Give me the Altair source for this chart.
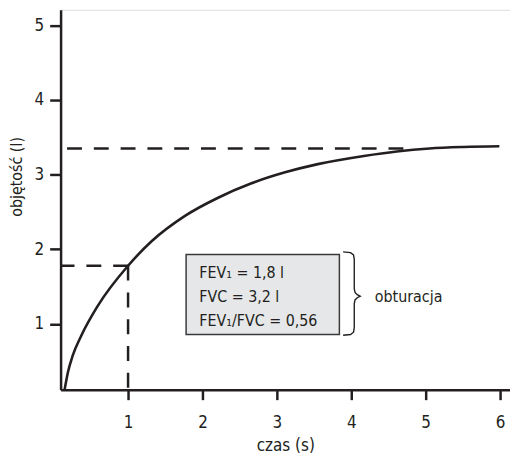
import altair as alt
import pandas as pd

FONT = "Liberation Sans Narrow, DejaVu Sans Condensed, sans-serif"
INK = "#231f20"

# spirometry curve: time (s) vs volume (l)
curve_t = [0.147, 0.191, 0.257, 0.369, 0.591, 1.0, 1.32, 1.77, 2.21, 2.65, 3.11, 3.55, 4.17, 4.61, 5.05, 5.51, 5.99]
curve_v = [0.12, 0.35, 0.58, 0.84, 1.24, 1.78, 2.11, 2.45, 2.69, 2.88, 3.03, 3.14, 3.25, 3.31, 3.35, 3.37, 3.38]

x_ticks = [1, 2, 3, 4, 5, 6]
y_ticks = [1, 2, 3, 4, 5]
x_domain = [0.093, 6.133]
y_domain = [0.12, 5.206]

fev1_t = 1.0
fev1_v = 1.78
fvc_v = 3.35
fvc_line_end = 4.7

box_x = [1.78, 3.84]
box_y = [0.86, 1.93]
box_lines = ["FEV\u2081 = 1,8 l", "FVC = 3,2 l", "FEV\u2081/FVC = 0,56"]
box_line_y = [1.62, 1.29, 0.97]
box_text_x = 1.956

brace_left, brace_x, brace_tip = 3.89, 4.04, 4.12
brace_top, brace_bottom, brace_mid = 1.965, 0.85, 1.372
note_label = "obturacja"
note_x, note_y = 4.316, 1.30

xs = alt.Scale(domain=x_domain, nice=False, zero=False)
ys = alt.Scale(domain=y_domain, nice=False, zero=False)

curve_df = pd.DataFrame({"t": curve_t, "v": curve_v})

xax = alt.Axis(values=x_ticks, format="d", title="czas (s)", grid=False, tickSize=10, tickWidth=2.5,
               domainWidth=2.5, domainColor=INK, tickColor=INK, labelColor=INK, titleColor=INK,
               labelFont=FONT, titleFont=FONT, labelFontSize=17, titleFontSize=17,
               titleFontWeight="normal", labelPadding=15, titlePadding=7)
yax = alt.Axis(values=y_ticks, format="d", title="objętość (l)", grid=False, tickSize=11, tickWidth=2.5,
               domainWidth=2.5, domainColor=INK, tickColor=INK, labelColor=INK, titleColor=INK,
               labelFont=FONT, titleFont=FONT, labelFontSize=17, titleFontSize=16,
               titleFontWeight="normal", labelPadding=6, titleX=-36, titleY=168)

curve = alt.Chart(curve_df).mark_line(color=INK, strokeWidth=2.6, interpolate="monotone").encode(
    x=alt.X("t:Q", scale=xs, axis=xax),
    y=alt.Y("v:Q", scale=ys, axis=yax),
)

dash = [15, 12]
hlines_df = pd.DataFrame({"x1": [fvc_line_end, fev1_t], "x2": [x_domain[0], x_domain[0]], "y": [fvc_v, fev1_v]})
hlines = alt.Chart(hlines_df).mark_rule(color=INK, strokeWidth=2.5, strokeDash=dash).encode(
    x=alt.X("x1:Q", scale=xs), x2="x2:Q", y=alt.Y("y:Q", scale=ys))

vline_df = pd.DataFrame({"x": [fev1_t], "y1": [fev1_v], "y2": [y_domain[0]]})
vline = alt.Chart(vline_df).mark_rule(color=INK, strokeWidth=2.5, strokeDash=dash).encode(
    x=alt.X("x:Q", scale=xs), y=alt.Y("y1:Q", scale=ys), y2="y2:Q")

box_df = pd.DataFrame({"x1": [box_x[0]], "x2": [box_x[1]], "y1": [box_y[0]], "y2": [box_y[1]]})
box = alt.Chart(box_df).mark_rect(fill="#e6e7e8", stroke="#3a3a3a", strokeWidth=1.5).encode(
    x=alt.X("x1:Q", scale=xs), x2="x2:Q", y=alt.Y("y1:Q", scale=ys), y2="y2:Q")

text_df = pd.DataFrame({"x": [box_text_x] * 3, "y": box_line_y, "label": box_lines})
texts = alt.Chart(text_df).mark_text(align="left", baseline="alphabetic", font=FONT, fontSize=16, color=INK).encode(
    x=alt.X("x:Q", scale=xs), y=alt.Y("y:Q", scale=ys), text="label:N")

# curly brace built from the box extent
bx = [brace_left, 3.99, 4.03, brace_x, brace_x, 4.05, 4.08, brace_tip, 4.08, 4.05, brace_x, brace_x, 4.03, 3.99, brace_left]
by = [brace_top, brace_top - 0.01, brace_top - 0.04, brace_top - 0.1,
      brace_mid + 0.1, brace_mid + 0.05, brace_mid + 0.02, brace_mid,
      brace_mid - 0.02, brace_mid - 0.05, brace_mid - 0.1,
      brace_bottom + 0.1, brace_bottom + 0.04, brace_bottom + 0.01, brace_bottom]
brace_df = pd.DataFrame({"x": bx, "y": by, "o": list(range(len(bx)))})
brace = alt.Chart(brace_df).mark_line(color=INK, strokeWidth=1.4, interpolate="linear").encode(
    x=alt.X("x:Q", scale=xs), y=alt.Y("y:Q", scale=ys), order="o:Q")

note_df = pd.DataFrame({"x": [note_x], "y": [note_y], "label": [note_label]})
note = alt.Chart(note_df).mark_text(align="left", baseline="alphabetic", font=FONT, fontSize=16, color=INK).encode(
    x=alt.X("x:Q", scale=xs), y=alt.Y("y:Q", scale=ys), text="label:N")

chart = alt.layer(box, texts, brace, note, hlines, vline, curve).properties(
    width=453, height=383,
    autosize=alt.AutoSizeParams(type="none"),
    padding={"left": 53, "top": 0, "right": 0, "bottom": 65},
).configure_view(stroke=None).configure(background="white")

chart.save("out.html", embed_options={"renderer": "svg", "actions": False})
